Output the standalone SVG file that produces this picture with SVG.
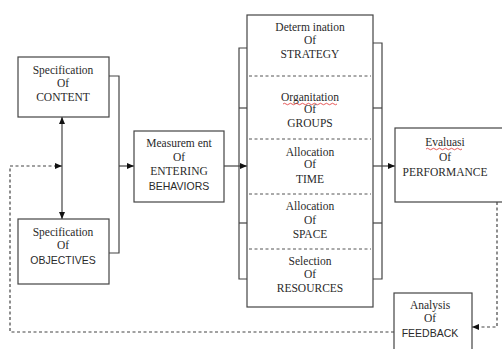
<svg xmlns="http://www.w3.org/2000/svg" width="502" height="349" viewBox="0 0 502 349">
<defs>
<marker id="ah" markerWidth="7" markerHeight="6" refX="7" refY="3" orient="auto" markerUnits="userSpaceOnUse">
<path d="M0,0 L7,3 L0,6 Z" fill="#111"/>
</marker>
<marker id="ahs" markerWidth="7" markerHeight="6" refX="0" refY="3" orient="auto" markerUnits="userSpaceOnUse">
<path d="M7,0 L0,3 L7,6 Z" fill="#111"/>
</marker>
<style>
.box{fill:#fff;stroke:#444;stroke-width:1.2}
.ln{fill:none;stroke:#444;stroke-width:1.2}
.dash{fill:none;stroke:#444;stroke-width:1.2;stroke-dasharray:3,2.5}
.div{fill:none;stroke:#555;stroke-width:1;stroke-dasharray:3,2.5}
.t{font-family:'Liberation Serif','Times New Roman',Times,serif;font-size:11.5px;fill:#2a2a2a;text-anchor:middle}
.s{font-family:'Liberation Sans',Arial,sans-serif;font-size:10.5px;fill:#2a2a2a;text-anchor:middle}
.sq{fill:none;stroke:#e03030;stroke-width:0.8}
</style>
</defs>
<rect width="502" height="349" fill="#fff"/>

<g id="connectors">
<polyline class="ln" points="109,76 119,76 119,253 109,253"/>
<line class="ln" x1="119" y1="166" x2="134" y2="166" marker-end="url(#ah)"/>
<line class="ln" x1="62" y1="117" x2="62" y2="219" marker-start="url(#ahs)" marker-end="url(#ah)"/>
<line class="ln" x1="224" y1="166" x2="247" y2="166" marker-end="url(#ah)"/>
<polyline class="ln" points="247,48 239,48 239,279 247,279"/>
<line class="ln" x1="239" y1="108" x2="247" y2="108"/>
<line class="ln" x1="239" y1="223" x2="247" y2="223"/>
<polyline class="ln" points="373,43 382,43 382,279 373,279"/>
<line class="ln" x1="373" y1="108" x2="382" y2="108"/>
<line class="ln" x1="373" y1="223" x2="382" y2="223"/>
<line class="ln" x1="373" y1="166" x2="395" y2="166" marker-end="url(#ah)"/>
<polyline class="dash" points="497,202 497,327 472,327" marker-end="url(#ah)"/>
<polyline class="dash" points="394,332 10,332 10,166 62,166" marker-end="url(#ah)"/>
</g>

<g id="content">
<rect class="box" x="18" y="57" width="91" height="60"/>
<text class="t" x="63" y="74">Specification</text>
<text class="t" x="63" y="87">Of</text>
<text class="t" x="63" y="101">CONTENT</text>
</g>

<g id="objectives">
<rect class="box" x="18" y="219" width="91" height="65"/>
<text class="t" x="63" y="236">Specification</text>
<text class="t" x="63" y="249">Of</text>
<text class="s" x="63" y="264">OBJECTIVES</text>
</g>

<g id="measurement">
<rect class="box" x="134" y="131" width="90" height="71"/>
<text class="t" x="179" y="147">Measurem ent</text>
<text class="t" x="179" y="161">Of</text>
<text class="t" x="179" y="175">ENTERING</text>
<text class="s" x="179" y="190">BEHAVIORS</text>
</g>

<g id="stack">
<rect class="box" x="247" y="15" width="126" height="292"/>
<line class="div" x1="249" y1="76" x2="371" y2="76"/>
<line class="div" x1="249" y1="139" x2="371" y2="139"/>
<line class="div" x1="249" y1="194" x2="371" y2="194"/>
<line class="div" x1="249" y1="249" x2="371" y2="249"/>
</g>

<g id="strategy">
<text class="t" x="310" y="31">Determ ination</text>
<text class="t" x="310" y="44">Of</text>
<text class="t" x="310" y="58">STRATEGY</text>
</g>

<g id="groups">
<text class="t" x="310" y="101">Organitation</text>
<path class="sq" d="M283,104 q1.5,-1.5 3,0 t3,0 t3,0 t3,0 t3,0 t3,0 t3,0 t3,0 t3,0 t3,0 t3,0 t3,0 t3,0 t3,0 t3,0 t3,0 t3,0 t3,0"/>
<text class="t" x="310" y="113">Of</text>
<text class="t" x="310" y="127">GROUPS</text>
</g>

<g id="time">
<text class="t" x="310" y="156">Allocation</text>
<text class="t" x="310" y="168">Of</text>
<text class="t" x="310" y="183">TIME</text>
</g>

<g id="space">
<text class="t" x="310" y="210">Allocation</text>
<text class="t" x="310" y="224">Of</text>
<text class="t" x="310" y="238">SPACE</text>
</g>

<g id="resources">
<text class="t" x="310" y="265">Selection</text>
<text class="t" x="310" y="278">Of</text>
<text class="t" x="310" y="292">RESOURCES</text>
</g>

<g id="evaluasi">
<rect class="box" x="395" y="128" width="120" height="74"/>
<text class="t" x="445" y="146">Evaluasi</text>
<path class="sq" d="M426,149 q1.5,-1.5 3,0 t3,0 t3,0 t3,0 t3,0 t3,0 t3,0 t3,0 t3,0 t3,0 t3,0 t3,0"/>
<text class="t" x="445" y="161">Of</text>
<text class="t" x="445" y="176">PERFORMANCE</text>
</g>

<g id="analysis">
<rect class="box" x="394" y="293" width="78" height="70"/>
<text class="t" x="430" y="309">Analysis</text>
<text class="t" x="430" y="322">Of</text>
<text class="s" x="430" y="337">FEEDBACK</text>
</g>
</svg>
